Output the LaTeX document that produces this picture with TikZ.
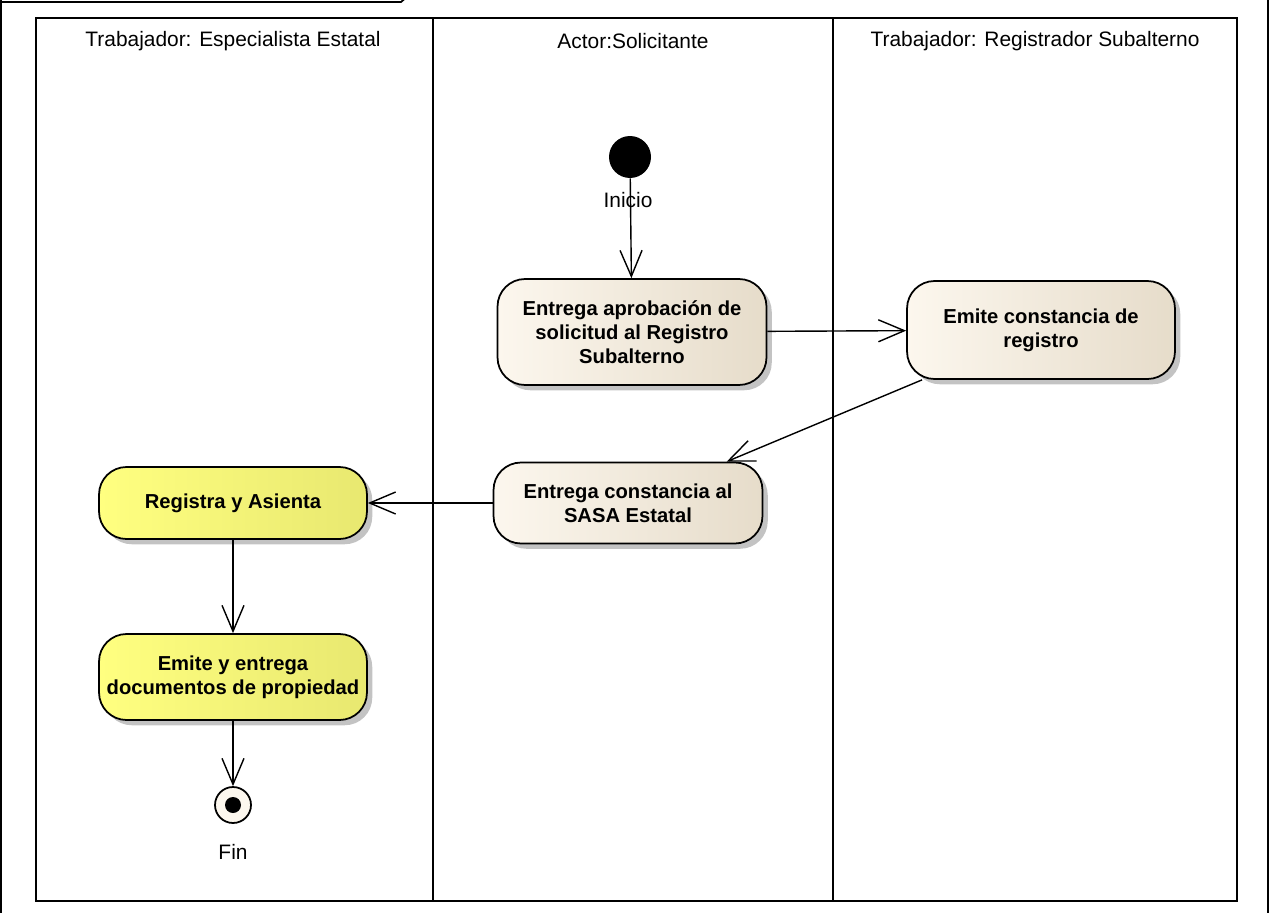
\documentclass[tikz,border=0pt]{standalone}
\usepackage{fontspec}
\setmainfont{Liberation Sans}
\usetikzlibrary{positioning,arrows.meta,shadows}
\definecolor{ActBeigeL}{RGB}{252,247,238}
\definecolor{ActBeigeR}{RGB}{230,220,202}
\definecolor{ActYellowL}{RGB}{255,255,128}
\definecolor{ActYellowR}{RGB}{232,232,112}
\definecolor{ShadowGray}{RGB}{195,195,195}
\tikzset{
  act/.style={draw=black,line width=1pt,rounded corners=0.55cm,align=center,
    font=\bfseries\fontsize{11.5}{13.5}\selectfont,inner sep=2pt,
    drop shadow={shadow xshift=3pt,shadow yshift=-3pt,fill=ShadowGray,opacity=1}},
  beigeact/.style={act,left color=ActBeigeL,right color=ActBeigeR},
  yellowact/.style={act,left color=ActYellowL,right color=ActYellowR},
  flow/.style={draw=black,line width=0.8pt,-{Straight Barb[length=0.52cm,width=0.44cm]}},
  lanelabel/.style={font=\fontsize{11.9}{14}\selectfont},
}

\begin{document}
\begin{tikzpicture}[x=0.02cm,y=-0.02cm]
  \useasboundingbox (0,0) rectangle (1270,912);

  % frame and lanes
  \draw[line width=1pt] (1,-5) -- (1,917);
  \draw[line width=1pt] (1268,-5) -- (1268,917);
  \draw[line width=1pt] (-5,2) -- (401,2) -- (408,-4);
  \draw[line width=1pt] (36,18) rectangle (1237,901);
  \draw[line width=1pt] (433,18) -- (433,901);
  \draw[line width=1pt] (833,18) -- (833,901);

  \node[lanelabel] (laneEstatal) at (233,41) {Trabajador: Especialista Estatal};
  \node[lanelabel] (laneSolicitante) at (633,41) {Actor:Solicitante};
  \node[lanelabel] (laneSubalterno) at (1035,41) {Trabajador: Registrador Subalterno};

  % activities
  \node[circle,fill=black,minimum size=0.84cm,inner sep=0pt] (inicio) at (630,157) {};
  \node[lanelabel] (inicioLbl) at (628,200) {Inicio};
  \node[beigeact,minimum width=5.38cm,minimum height=2.12cm] (entregaAprob) at (632,332)
    {Entrega aprobación de\\solicitud al Registro\\Subalterno};
  \node[beigeact,minimum width=5.36cm,minimum height=1.96cm] (emiteConst) at (1041,330)
    {Emite constancia de\\registro};
  \node[beigeact,minimum width=5.38cm,minimum height=1.62cm] (entregaConst) at (628,503)
    {Entrega constancia al\\SASA Estatal};
  \node[yellowact,minimum width=5.36cm,minimum height=1.44cm] (registra) at (233,503)
    {Registra y Asienta};
  \node[yellowact,minimum width=5.36cm,minimum height=1.72cm] (emiteDocs) at (233,677)
    {Emite y entrega\\documentos de propiedad};
  \node[circle,draw=black,line width=1pt,fill=ActBeigeL,minimum size=0.72cm,inner sep=0pt] (fin) at (233,805) {};
  \fill[black] (fin.center) circle (0.16cm);
  \node[lanelabel] (finLbl) at (233,852) {Fin};

  % flows
  \draw[flow] (inicio) -- (entregaAprob);
  \draw[flow] (entregaAprob) -- (emiteConst);
  \draw[flow] (emiteConst) -- (entregaConst);
  \draw[flow] (entregaConst) -- (registra);
  \draw[flow] (registra) -- (emiteDocs);
  \draw[flow] (emiteDocs) -- (fin);
\end{tikzpicture}
\end{document}
